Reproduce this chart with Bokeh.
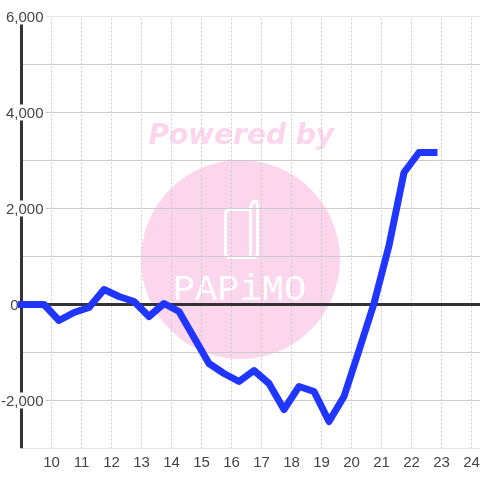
from bokeh.plotting import figure
from bokeh.models import Range1d, FixedTicker, Label, NumeralTickFormatter
from bokeh.embed import file_html
from bokeh.resources import INLINE

hours = [9.0, 9.25, 9.75, 10.25, 10.75, 11.25, 11.75, 12.25, 12.75, 13.25, 13.75, 14.25,
         14.75, 15.25, 15.75, 16.25, 16.75, 17.25, 17.75, 18.25, 18.75, 19.25, 19.75,
         20.25, 20.75, 21.25, 21.75, 22.25, 22.75]
balance = [0, 0, 0, -333, -167, -63, 313, 167, 63, -250, 21, -146,
           -688, -1229, -1438, -1604, -1375, -1646, -2188, -1708, -1813, -2438, -1917,
           -958, 21, 1229, 2750, 3167, 3167]
x_ticks = list(range(10, 25))
y_labelled = [-2000, 2000, 4000, 6000]
y_ticks = [-2000, 0, 2000, 4000, 6000]
y_plain = [-3000, -1000, 1000, 3000, 5000]

X0 = 8.8
UNIT_Y = 1000 / 48
SHIFT = 4


def px_x(px):
    return X0 + (px - 15) / 30


def px_y(py):
    return (304 - py) * UNIT_Y


p = figure(width=480 + SHIFT, height=480, output_backend="svg", toolbar_location=None,
           x_range=Range1d(X0, 24.3), y_range=Range1d(-3000, 6000),
           min_border_left=15 + SHIFT, min_border_right=0, min_border_top=16, min_border_bottom=32)
p.styles = {"position": "fixed", "left": f"-{SHIFT}px", "top": "0px"}
p.outline_line_color = None
p.background_fill_color = "white"
p.border_fill_color = "white"

# x axis and grid
p.xaxis.ticker = FixedTicker(ticks=x_ticks)
p.xaxis.axis_line_color = None
p.xaxis.major_tick_line_color = None
p.xaxis.minor_tick_line_color = None
p.xaxis.major_label_standoff = 2
p.xaxis.major_label_text_font = "Liberation Sans"
p.xaxis.major_label_text_font_size = "15px"
p.xaxis.major_label_text_color = "#444444"
p.xgrid.ticker = FixedTicker(ticks=x_ticks)
p.xgrid.grid_line_color = "#cccccc"
p.xgrid.grid_line_dash = "2 2"
p.xgrid.grid_line_width = 1
p.ygrid.visible = False

# y axis labels sit over the plot area
p.yaxis.ticker = FixedTicker(ticks=y_ticks)
p.yaxis.formatter = NumeralTickFormatter(format="0,0")
p.yaxis.major_label_overrides = {0: "0" + "\u00a0" * 6}
p.yaxis.axis_line_color = None
p.yaxis.major_tick_line_color = None
p.yaxis.minor_tick_line_color = None
p.yaxis.major_label_standoff = -34
p.yaxis.major_label_text_font = "Liberation Sans"
p.yaxis.major_label_text_font_size = "15px"
p.yaxis.major_label_text_color = "#444444"

# watermark
PINK = "#fbd6ec"
p.scatter([px_x(240)], [px_y(259)], size=199, marker="circle", fill_color=PINK,
          line_color=None, level="image")
p.add_layout(Label(x=px_x(148), y=px_y(134), text="Powered by", text_font="DejaVu Sans",
                   text_font_size="28px", text_font_style="bold italic", text_color=PINK,
                   text_baseline="middle", text_align="left", level="image"))
phone_x = [225, 225, 228, 250, 250, 253, 256, 257, 257, 254, 228, 225]
phone_y = [212, 254, 257, 257, 207, 201, 201, 205, 254, 257, 257, 254]
p.line([px_x(v) for v in phone_x] + [px_x(225), px_x(228), px_x(250)],
       [px_y(v) for v in phone_y] + [px_y(212), px_y(209), px_y(209)],
       line_color="white", line_width=3, line_join="round", level="image")
p.add_layout(Label(x=px_x(239), y=px_y(289), text="PAPiMO", text_font="Liberation Mono",
                   text_font_size="37px", text_color="white", text_align="center",
                   text_baseline="middle", level="image"))

# horizontal grid stops short of the axis labels
grid_y = y_labelled + y_plain
grid_x0 = [px_x(45)] * len(y_labelled) + [9] * len(y_plain)
p.segment(grid_x0, grid_y, [24.3] * len(grid_y), grid_y, line_color="#cccccc", line_width=1,
          level="underlay")

# axis line, interrupted by the labels
gap = 8 * UNIT_Y
stops = sorted(y_labelled)
lows = [-3000] + [t + gap for t in stops]
highs = [t - gap for t in stops] + [6000]
p.segment([9] * len(lows), lows, [9] * len(lows), highs, line_color="#333333", line_width=3)

# zero line
p.segment([9], [0], [24.3], [0], line_color="#333333", line_width=3)

# data
p.line(hours, balance, line_color="#2036ff", line_width=7, line_join="round",
       line_cap="square", level="annotation")

html = file_html(p, INLINE)
open("out.html", "w").write(html)
